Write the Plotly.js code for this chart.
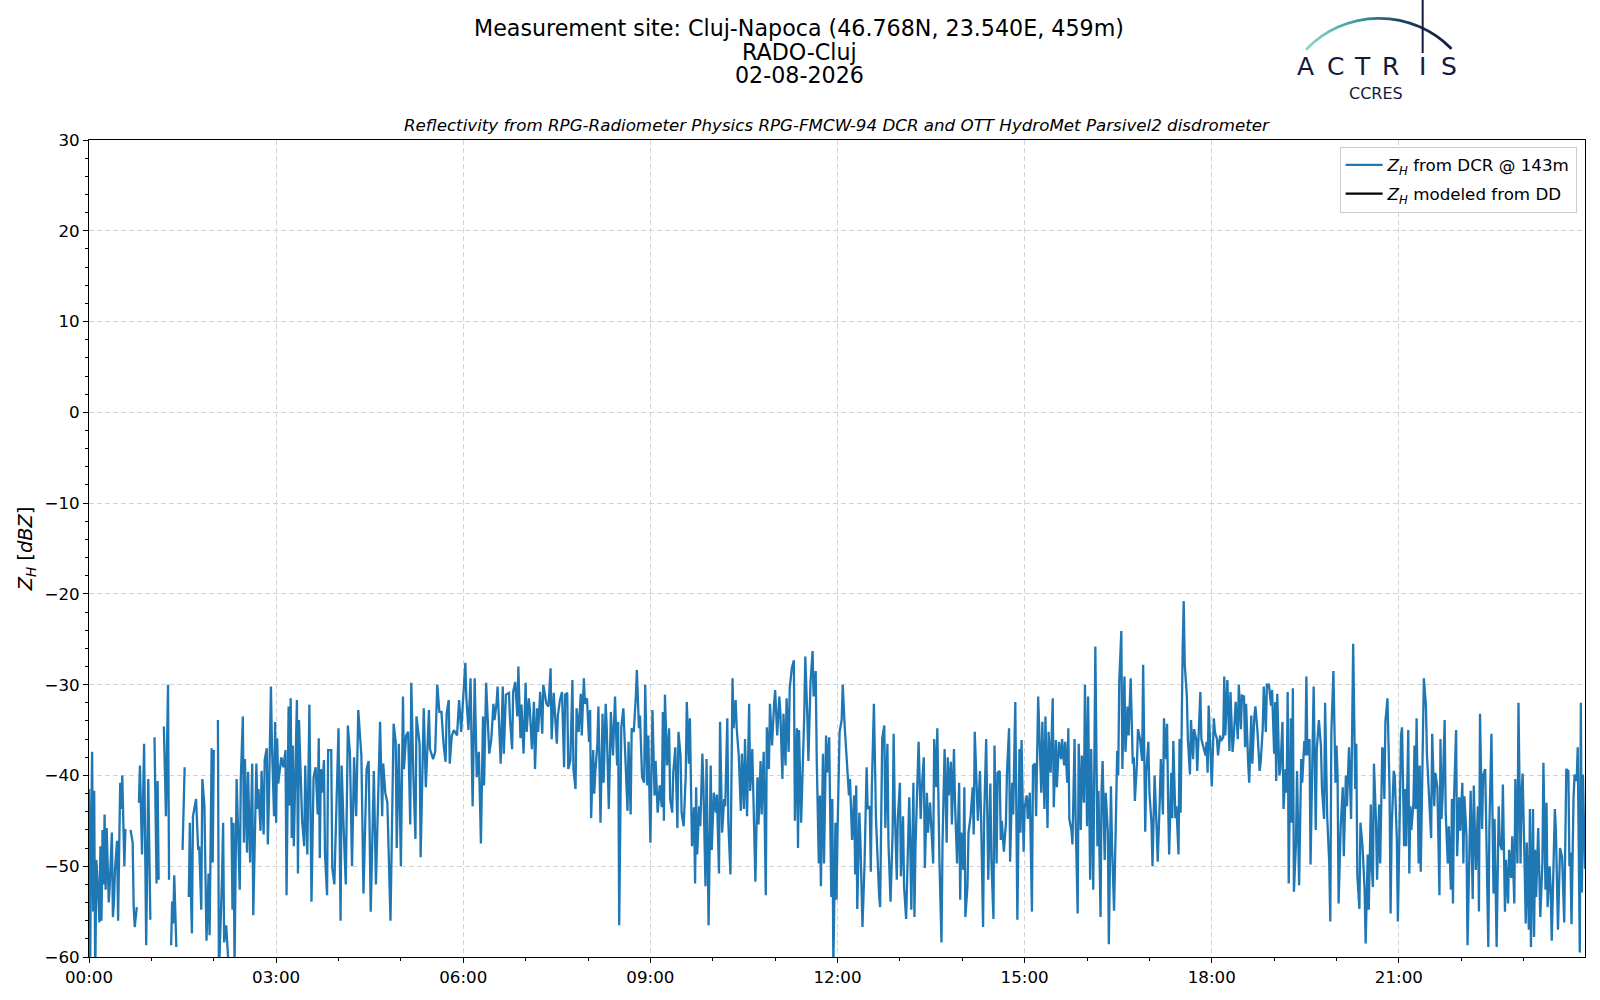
<!DOCTYPE html>
<html>
<head>
<meta charset="utf-8">
<script src="https://cdn.plot.ly/plotly-3.0.1.min.js"></script>
<style>
  body { margin: 0; background: #fff; }
  #chart { width: 1600px; height: 1000px; }
</style>
</head>
<body>
<div id="chart"></div>
<script>
// DCR reflectivity at 143 m, [minute of day, Z_H in dBZ] (null = no data)
var zh_00_04 = [[0,-41.5],[1,-63],[2,-47],[3,-37.4],[4,-55],[5,-41.7],[6,-63],[7,-49.3],[8,-51],[9,-53.5],[10,-56.2],[11,-47.8],[12,-56],[13,-46],[14,-52],[15,-44.3],[16,-52.6],[17,-45.8],[18,-50],[19,-54],[20,-52],[22,-46.3],[23,-55.6],[24,-54],[25,-50.4],[27,-47.2],[28,-56],[30,-40.8],[31,-43.7],[32,-40],[34,-50],[35,-45.9],[36,null],
  [40,-46],[42,-47.4],[43,-54.5],[44,-56.7],[46,-54.5],[47,null],[48,-43],[49,-38.9],[51,-48.7],[53,-36.5],[55,-58.7],[56,-45],[57,-40.4],[59,-55.9],[60,null],
  [63,-35.8],[65,-51.9],[66,-40.6],[67,-51.5],[68,null],[72,-34.6],[74,-44.5],[76,-30],[77,-51.5],[78,null],[79,-58.7],[80,-53.9],[81,-56.3],[82,-51],[84,-58.9],[85,null],
  [90,-48.2],[92,-39.1],[93,null],[96,-53.4],[97,-45.2],[98,-52.8],[99,-57.4],[100,-44.5],[103,-42.6],[105,-48.2],[106,-47.8],[108,-54.8],[109,-40.4],[111,-43.3],[113,-58.2],[115,-50.8],[116,-57.6],[118,-37],[119,-49.6],[120,-37.2],[121,null],
  [124,-33.9],[125,-62],[128,-51.1],[129,-45.2],[130,-58.4],[132,-56.5],[134,-60.5],[135,null],[137,-44.6],[138,-54.8],[139,-45.2],[140,-61],
  [142,-40.4],[145,-52.6],[146,-40.4],[148,-33.5],[149,-47.4],[150,-38.2],[152,-48.5],[153,-39.6],[155,-49.6],[157,-38.7],[158,-55.4],[161,-38.7],[162,-43.7],[163,-41.5],[165,-46.1],[166,-39.5],[168,-46.5],[169,-38.3],[171,-37],[172,-47.6],[173,-43],[175,-30.2],[176,-36.7],[178,-44.5],[179,-34.1],
  [180,-45.2],[181,-35.9],[182,-40.9],[185,-38],[187,-39.1],[189,-37.2],[190,-53.2],[192,-32.4],[193,-43.3],[194,-31.5],[195,-46.9],[196,-36.7],[197,-47.8],[200,-31.7],[201,-50.8],[202,-33.9],[205,-45],[207,-47.8],[208,-38.9],[210,-48.7],[212,-32.2],[214,-53.9],[216,-40.2],[218,-39.1],[220,-44.3],[221,-35.9],[222,-49.1],[223,-39.3],[224,-41.9],[226,-38.3],[227,-48.7],[229,-53.2],[230,-37.2],[233,-37.2],[234,-50.2],[236,-52],[238,-44]];

var zh_04_08 = [[240,-34.8],[242,-56],[243,-38.9],[245,-46],[247,-52],[249,-34.5],[251,-37.6],[253,-50],[255,-38],[257,-44.5],[259,-32.8],[262,-37.8],[264,-53],[267,-39.3],[269,-38.4],[271,-55],[274,-39.5],[276,-52],[278,-44],[280,-34.1],[282,-44.5],[283,-38.7],[285,-41.9],[287,-43],[290,-56],[293,-34.3],[295,-36.3],[296,-48],[298,-36.5],
  [300,-50],[302,-31.3],[303,-39.3],[305,-35.6],[307,-35.2],[309,-45.4],[310,-29.8],[312,-40],[314,-47],[315,-33.5],[318,-36.5],[319,-49],[322,-32.6],[324,-41.3],[327,-32.8],[328,-37.1],[330,-37.8],[331,-38.2],[333,-37.4],[335,-30],[337,-33],[339,-33],[341,-36.5],[343,-38.5],[344,-33.2],[346,-31.7],[347,-38.7],[349,-35.6],[351,-35],[354,-35.6],[356,-31.7],[358,-35.2],[359,-33.2],
  [362,-27.6],[363,-31.5],[365,-35],[367,-29.3],[369,-43.4],[371,-29.3],[373,-40.2],[375,-37.4],[377,-47.5],[379,-33.5],[380,-41.1],[382,-29.8],[384,-34.8],[385,-37.6],[387,-36],[389,-32.1],[390,-33.9],[392,-32.1],[393,-30.2],[396,-38.7],[398,-30.2],[399,-37.6],[401,-31.1],[404,-30.9],[405,-33.9],[407,-37.1],[408,-30.8],[410,-29.7],[412,-33.5],[413,-28],[415,-35.9],[416,-32.2],[418,-37.6],
  [420,-29.8],[421,-35.2],[423,-31.5],[424,-32.6],[426,-37.1],[428,-31.9],[429,-39.3],[431,-32.6],[432,-35.2],[434,-30.8],[436,-35.4],[437,-30],[439,-31.5],[440,-32.1],[442,-32.4],[444,-28.2],[445,-36],[447,-30.9],[450,-36.5],[451,-33.4],[453,-31.7],[455,-30.8],[457,-39.1],[458,-31.1],[460,-30.9],[461,-39.3],[463,-38.4],[465,-29.5],[466,-39.3],[468,-41.5],[469,-32.6],[471,-35.2],[473,-31],[474,-35.6],[476,-29.3],[477,-32.1],[479,-31.5]];

var zh_08_12 = [[481,-36.3],[482,-32.8],[483,-44.7],[485,-37.2],[486,-42],[487,-39.7],[489,-36.5],[490,-32.4],[492,-45.2],[494,-33.2],[495,-40.8],[497,-32.1],[498,-34.7],[500,-43.7],[502,-33],[504,-37.8],[506,-31.3],[508,-38.9],[509,-34.1],[510,-56.5],[511,-42.6],[512,-34.7],[514,-32.6],[516,-37.8],[518,-43.9],[519,-36.3],[521,-44.3],[522,-34.8],[524,-35.2],[526,-31.3],[527,-28.4],[529,-34.8],[530,-33.4],[532,-40.2],[534,-40.8],[535,-30],[537,-41.1],[538,-35.6],
  [540,-47.4],[542,-32.8],[544,-42.2],[545,-38.4],[547,-44.1],[549,-41.1],[551,-43.5],[552,-33],[553,-45],[554,-31.1],[556,-38.9],[558,-34.8],[559,-42.6],[561,-44.1],[562,-39.7],[564,-36.9],[566,-45.8],[567,-35.2],[569,-37.8],[570,-44.1],[572,-45.6],[574,-40],[575,-31.9],[577,-38.7],[578,-33.7],[580,-47.8],[582,-43.5],[583,-51.9],[584,-41.3],[585,-48.7],[587,-43.4],[588,-45.6],[590,-37.6],[591,-41.1],[593,-52.2],[594,-38.2],[596,-56.5],[597,-48.2],[598,-38.9],[599,-48.2],
  [601,-41.9],[603,-44.1],[604,-42.1],[606,-50.8],[607,-34.1],[609,-46.3],[611,-42.6],[612,-43.4],[614,-33.7],[615,-45.2],[617,-50.9],[619,-29.3],[620,-34.8],[622,-31.7],[623,-34.8],[625,-37.8],[627,-43.9],[628,-37.6],[630,-43.7],[631,-36],[633,-44.5],[635,-32.1],[636,-41.7],[638,-37.1],[639,-41.9],[641,-51.7],[643,-40.2],[644,-45.4],[646,-38.4],[647,-44.3],[649,-37.4],[651,-53.2],[652,-34.7],[654,-39.3],[655,-32.1],[657,-36.7],[659,-32.1],
  [660,-30.6],[662,-35.6],[664,-31.3],[665,-33],[667,-40.4],[668,-33.2],[670,-38.9],[671,-31.5],[673,-37.4],[674,-30.4],[676,-28.2],[678,-27.3],[679,-45],[681,-34.8],[682,-48],[683,-35],[685,-45.2],[688,-33.4],[689,-26.9],[691,-33.7],[692,-38.4],[694,-29.8],[696,-26.3],[697,-31.3],[699,-28.5],[700,-38.2],[702,-49.7],[703,-42.2],[704,-52.2],[706,-37.6],[707,-49.7],[709,-35.6],[710,-39.7],[712,-35.8],[714,-53.4],[715,-42.6],[716,-61],[718,-45.2],[719,-53.7]];

var zh_12_16 = [[720,-46.3],[722,-35.2],[724,-33.9],[725,-30],[727,-34.8],[729,-38.5],[731,-42.2],[732,-40.4],[734,-47.1],[736,-42.2],[737,-50.9],[738,-41.1],[739,-54.7],[741,-44.1],[742,-47.1],[744,-56.7],[746,-49.7],[748,-39.1],[749,-43.7],[751,-43.4],[752,-50.6],[753,-41.3],[755,-32.1],[757,-44.8],[758,-48],[760,-53.2],[761,-54.5],[763,-35.9],[765,-34.5],[766,-45.8],[768,-36.5],[769,-47.4],[771,-53.9],[773,-46.3],[774,-35.4],[775,-43.4],[777,-51.5],[778,-44.8],
  [780,-40.8],[781,-51.1],[783,-44.5],[784,-52.2],[786,-55.8],[788,-47.8],[789,-42.4],[790,-47.8],[791,-54.8],[793,-40.8],[794,-55.6],[795,-47.8],[797,-38],[798,-36.3],[800,-44.8],[801,-41.5],[803,-38],[804,-50.2],[806,-41.9],[807,-46.3],[809,-43],[810,-45.6],[812,-49.7],[813,-36],[815,-41.3],[816,-34.8],[818,-49.3],[820,-58.4],[821,-47.4],[823,-37.1],[825,-47.4],[826,-38],[827,-42.2],[829,-38.5],[830,-45.4],[832,-37.1],[833,-43],[835,-49.7],[837,-40.8],[838,-53.7],[839,-46.3],
  [841,-50.4],[842,-41.3],[843,-55.6],[845,-52.2],[846,-46.3],[848,-44.5],[850,-41.3],[851,-46.5],[852,-35.2],[854,-41.9],[855,-45],[857,-39.5],[858,-44.1],[860,-56.7],[861,-44.8],[863,-36],[865,-51.5],[867,-40.9],[868,-49.3],[870,-55.8],[871,-36.7],[873,-49.7],[874,-39.7],[876,-39.5],[877,-47.1],[878,-45],[880,-48.4],[882,-45.2],[883,-39.7],[885,-34.8],[886,-49.5],[888,-40.8],[889,-44.3],[891,-31.9],[892,-44.1],[893,-55.9],[895,-37.1],[896,-46.3],[897,-36.1],[899,-48.4],
  [900,-43.5],[902,-42.2],[903,-44.8],[905,-41.9],[907,-55],[908,-38.9],[910,-38.7],[911,-44.5],[913,-31.3],[914,-35.2],[916,-41.9],[917,-34.1],[919,-43.7],[920,-33.5],[922,-45.8],[923,-35.2],[925,-39.7],[927,-31.5],[928,-43.5],[930,-36.1],[931,-41.3],[933,-36.3],[935,-38.2],[936,-36],[938,-38.9],[939,-36.3],[941,-40.8],[942,-34.8],[943,-44.8],[945,-46],[946,-47.6],[948,-36],[949,-44.5],[951,-55.2],[952,-36.5],[954,-46],[955,-37.8],[957,-43],[958,-30]];

var zh_16_20 = [[960,-45.6],[961,-31.3],[963,-51.5],[964,-37.1],[966,-52.6],[967,-39.3],[968,-25.8],[970,-47.8],[971,-41.7],[973,-55.6],[974,-41.5],[975,-38.4],[977,-49.3],[978,-41.9],[980,-46.2],[981,-58.6],[983,-41.2],[984,-47.5],[986,-54.9],[988,-43.4],[989,-37.3],[990,-40],[991,-29.7],[993,-24.1],[994,-39.3],[996,-29.1],[997,-37.4],[999,-32.4],[1000,-35.6],[1002,-29.3],[1004,-38.7],[1005,-38],[1006,-42.8],[1008,-38.7],[1009,-34.9],[1011,-36],[1013,-38.4],[1014,-27.8],[1016,-46.2],[1017,-39.7],[1019,-36.3],
  [1020,-41.9],[1022,-45.2],[1023,-50],[1025,-40],[1027,-46],[1028,-49.5],[1030,-42.6],[1031,-38.2],[1033,-44.3],[1034,-33.7],[1036,-38.2],[1037,-34.3],[1038,-43],[1039,-48.7],[1041,-39.7],[1042,-44.7],[1043,-36.2],[1045,-44.7],[1046,-43.4],[1048,-48.7],[1049,-36],[1050,-44.1],[1052,-26],[1053,-20.8],[1054,-27.8],[1056,-31.2],[1057,-36],[1059,-39.9],[1060,-33.9],[1062,-38.2],[1063,-34.9],[1065,-36],[1066,-39.5],[1068,-33.7],[1069,-30.8],[1070,-36],[1072,-36.9],[1074,-37.8],[1075,-36.3],[1076,-39.7],[1077,-32.3],[1079,-37.8],
  [1080,-41.2],[1082,-33.7],[1083,-35.2],[1085,-36],[1086,-37.8],[1088,-35.6],[1089,-36.2],[1091,-35.8],[1092,-29.1],[1093,-35.6],[1095,-29.5],[1097,-37.3],[1098,-30.8],[1100,-37.4],[1101,-36],[1103,-31.9],[1105,-36],[1106,-30],[1108,-34.9],[1109,-31.2],[1111,-31.3],[1112,-36.9],[1113,-32.1],[1115,-38.7],[1116,-40.8],[1118,-33.4],[1119,-38.7],[1121,-33.4],[1122,-32.4],[1124,-35.2],[1126,-39.5],[1127,-38.6],[1129,-34.9],[1130,-30.2],[1132,-35.2],[1133,-30],[1135,-30],[1137,-32.3],[1138,-30.6],
  [1140,-37.6],[1141,-31.9],[1142,-40.6],[1143,-31],[1145,-40],[1146,-39.3],[1148,-34.1],[1149,-43.7],[1151,-39.3],[1152,-41.9],[1153,-30.8],[1154,-51.9],[1156,-33.7],[1157,-45.2],[1158,-30.4],[1159,-52.8],[1161,-47.4],[1162,-39.5],[1164,-52.1],[1166,-38.2],[1167,-40.8],[1169,-36.2],[1170,-37.8],[1171,-29.1],[1172,-37.8],[1174,-36],[1175,-49.8],[1177,-38.5],[1178,-30.2],[1180,-46],[1181,-37.1],[1183,-33.9],[1185,-36.7],[1186,-41.5],[1188,-44.8],[1189,-32],[1191,-44.5],[1193,-49.7],[1194,-56.1],[1195,-35.4],[1197,-28.5],[1199,-40.8]];

var zh_20_24 = [[1200,-36.7],[1201,-40],[1202,-54.1],[1204,-45.6],[1206,-41.3],[1207,-48.9],[1209,-40],[1210,-43.4],[1212,-36.9],[1214,-44.8],[1215,-36.7],[1216,-25.5],[1218,-41.5],[1219,-36.5],[1220,-51],[1222,-54.7],[1223,-45.2],[1225,-47.8],[1227,-52.6],[1228,-58.5],[1230,-48.7],[1231,-54.8],[1233,-43.2],[1234,-50.4],[1235,-52.3],[1236,-38.7],[1238,-45.2],[1239,-51.5],[1241,-43.2],[1242,-49.7],[1244,-36.9],[1245,-37.4],[1246,-42.6],[1247,-34.1],[1249,-31.5],[1251,-41.5],[1252,-55.2],[1253,-46],[1255,-39.5],[1256,-40],[1258,-47.1],[1259,-56.1],
  [1261,-43],[1262,-35.6],[1263,-34.7],[1265,-47.8],[1266,-41.5],[1267,-47.8],[1269,-35],[1270,-50.8],[1271,-43.4],[1272,-46],[1274,-43],[1275,-36.7],[1276,-43.7],[1277,-33.7],[1279,-49.7],[1280,-38.9],[1281,-50.6],[1283,-38.5],[1284,-29.3],[1286,-32.3],[1287,-37.8],[1289,-42.3],[1291,-46.9],[1292,-35.4],[1294,-43.4],[1295,-39.7],[1297,-41.3],[1299,-53.2],[1300,-36],[1301,-44.8],[1302,-42.3],[1304,-33.9],[1305,-44.1],[1307,-49.7],[1308,-45.6],[1310,-52.6],[1311,-42.6],[1312,-54.1],[1313,-42.6],[1315,-35],[1316,-48.9],[1318,-42.4],[1319,-46.1],
  [1321,-40.8],[1322,-49.7],[1323,-42.3],[1325,-46.7],[1326,-58.7],[1328,-45.2],[1329,-41.7],[1331,-53.6],[1332,-41.1],[1334,-50.4],[1336,-43.4],[1337,-55],[1338,-33.2],[1340,-45.9],[1341,-40],[1343,-39.3],[1344,-44.8],[1346,-58.9],[1347,-45.9],[1349,-35.4],[1351,-53],[1352,-44.8],[1354,-58.9],[1356,-43.4],[1357,-47.4],[1359,-48.2],[1360,-41],[1362,-55],[1363,-49.3],[1365,-54.1],[1366,-48.2],[1368,-51.3],[1369,-46.7],[1371,-54.1],[1372,-40.4],[1374,-49.7],[1375,-32],[1377,-49.7],[1378,-41.9],[1379,-39.8],
  [1381,-50.4],[1382,-56.3],[1383,-47.4],[1385,-57],[1386,-43.7],[1387,-58.9],[1389,-43.7],[1390,-57.8],[1391,-48.2],[1392,-53.4],[1394,-45.8],[1395,-52.6],[1396,-55.6],[1398,-49.7],[1399,-38.6],[1401,-52.6],[1402,-43],[1403,-54.5],[1405,-50],[1406,-52.6],[1407,-58.2],[1409,-48.5],[1410,-43.7],[1411,-46],[1413,-57],[1415,-48],[1417,-49],[1419,-56.2],[1420,-45],[1421,-39.3],[1423,-39.5],[1424,-50],[1425,-48.5],[1426,-56.4],[1428,-42.4],[1429,-39.9],[1431,-40.6],[1432,-36.9],[1434,-59.5],[1435,-32],[1436,-52.9],[1437,-39.9],[1439,-50.3],[1440,-45]];

var day = '2026-08-02';
var titleLines = ['Measurement site: Cluj-Napoca (46.768N, 23.540E, 459m)', 'RADO-Cluj', '02-08-2026'];
var subtitle = 'Reflectivity from RPG-Radiometer Physics RPG-FMCW-94 DCR and OTT HydroMet Parsivel2 disdrometer';
var dcrName = '<i>Z</i><sub><i>H</i></sub> from DCR @ 143m';
var ddName = '<i>Z</i><sub><i>H</i></sub> modeled from DD';

function pad(n) { return (n < 10 ? '0' : '') + n; }
function stamp(m) {
  if (m >= 1440) return '2026-08-03 00:00';
  return day + ' ' + pad(Math.floor(m / 60)) + ':' + pad(m % 60);
}

var pairs = [].concat(zh_00_04, zh_04_08, zh_08_12, zh_12_16, zh_16_20, zh_20_24);
var xs = pairs.map(function (p) { return stamp(p[0]); });
var ys = pairs.map(function (p) { return p[1]; });

var traces = [
  {
    x: xs, y: ys, type: 'scatter', mode: 'lines', name: dcrName, legendgroup: 'dcr',
    line: { color: '#1f77b4', width: 2.3 }, connectgaps: false
  },
  {
    x: [null], y: [null], type: 'scatter', mode: 'lines', name: ddName, legendgroup: 'dd',
    line: { color: '#000000', width: 2.3 }
  }
];

// logo arc + mast as a small svg, letters kept as text annotations
var logoSvg = '<svg xmlns="http://www.w3.org/2000/svg" width="180" height="80" viewBox="0 0 180 80">' +
  '<defs><linearGradient id="g" x1="17" y1="0" x2="161" y2="0" gradientUnits="userSpaceOnUse">' +
  '<stop offset="0" stop-color="#8fd6cf"/><stop offset="0.35" stop-color="#3a9ca3"/>' +
  '<stop offset="0.65" stop-color="#1f4262"/><stop offset="1" stop-color="#141a3c"/></linearGradient></defs>' +
  '<path d="M17 49 A101 101 0 0 1 161 48" fill="none" stroke="url(#g)" stroke-width="2.8" stroke-linecap="round"/>' +
  '<line x1="133" y1="0" x2="133" y2="53" stroke="#141a3c" stroke-width="2"/></svg>';

var annotations = [];
var titleY = [1.1365, 1.1083, 1.0800];
titleLines.forEach(function (t, i) {
  annotations.push({
    text: t, xref: 'paper', yref: 'paper', x: 0.4748, y: titleY[i],
    xanchor: 'center', yanchor: 'middle', showarrow: false,
    font: { family: 'DejaVu Sans', size: 22.2, color: '#000' }
  });
});
annotations.push({
  text: '<i>' + subtitle + '</i>', xref: 'paper', yref: 'paper', x: 0.5, y: 1.0184,
  xanchor: 'center', yanchor: 'middle', showarrow: false,
  font: { family: 'DejaVu Sans', size: 16.7, color: '#000' }
});
var letters = ['A', 'C', 'T', 'R', 'I', 'S'];
var letterX = [0.8133, 0.8333, 0.8515, 0.8702, 0.8916, 0.9090];
letters.forEach(function (c, i) {
  annotations.push({
    text: c, xref: 'paper', yref: 'paper', x: letterX[i], y: 1.0900,
    xanchor: 'center', yanchor: 'middle', showarrow: false,
    font: { family: 'DejaVu Sans', size: 25, color: '#141a3c' }
  });
});
annotations.push({
  text: 'CCRES', xref: 'paper', yref: 'paper', x: 0.8601, y: 1.0565,
  xanchor: 'center', yanchor: 'middle', showarrow: false,
  font: { family: 'DejaVu Sans', size: 16, color: '#141a3c' }
});

var axisCommon = {
  ticks: 'outside', ticklen: 5, tickwidth: 1, tickcolor: '#000',
  showline: true, linecolor: '#000', linewidth: 1, mirror: true,
  showgrid: true, gridcolor: '#d3d3d3', gridwidth: 1, griddash: '5px,3px',
  zeroline: false, tickfont: { family: 'DejaVu Sans', size: 16.7, color: '#000' }
};

var layout = {
  width: 1600, height: 1000,
  margin: { l: 89, r: 15, t: 140, b: 43 },
  paper_bgcolor: '#fff', plot_bgcolor: '#fff',
  font: { family: 'DejaVu Sans', size: 16.7, color: '#000' },
  showlegend: true,
  xaxis: Object.assign({}, axisCommon, {
    type: 'date',
    range: [day + ' 00:00', day + ' 23:59'],
    tick0: day + ' 00:00', dtick: 10800000, tickformat: '%H:%M',
    minor: { dtick: 3600000, ticks: 'outside', ticklen: 3, tickcolor: '#000', showgrid: false }
  }),
  yaxis: Object.assign({}, axisCommon, {
    range: [-60, 30], dtick: 10,
    minor: { dtick: 2, ticks: 'outside', ticklen: 3, tickcolor: '#000', showgrid: false },
    title: { text: '<i>Z</i><sub><i>H</i></sub> [<i>dBZ</i>]', standoff: 6,
             font: { family: 'DejaVu Sans', size: 19.4, color: '#000' } }
  }),
  legend: {
    x: 0.9944, y: 0.992, xanchor: 'right', yanchor: 'top',
    traceorder: 'grouped', tracegroupgap: 4, itemwidth: 37,
    bgcolor: 'rgba(255,255,255,0.8)', bordercolor: '#cccccc', borderwidth: 1,
    font: { family: 'DejaVu Sans', size: 16.7, color: '#000' }
  },
  annotations: annotations,
  images: [{
    source: 'data:image/svg+xml;charset=utf-8,' + encodeURIComponent(logoSvg),
    xref: 'paper', yref: 'paper', x: 0.8026, y: 1.1714,
    sizex: 0.1203, sizey: 0.0979, sizing: 'stretch',
    xanchor: 'left', yanchor: 'top', layer: 'below'
  }]
};

Plotly.newPlot('chart', traces, layout, { displayModeBar: false, staticPlot: true });
</script>
</body>
</html>
